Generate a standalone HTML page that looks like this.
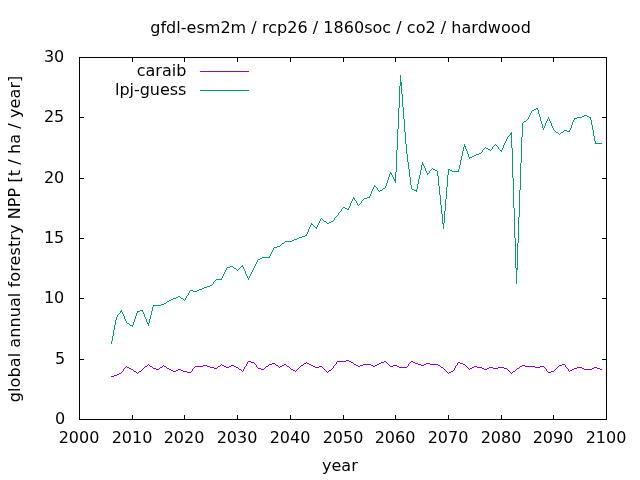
<!DOCTYPE html>
<html lang="en"><head><meta charset="utf-8"><title>gfdl-esm2m / rcp26 / 1860soc / co2 / hardwood</title>
<style>html,body{margin:0;padding:0;background:#fff;overflow:hidden}svg{display:block}text{font-family:"DejaVu Sans","Liberation Sans",sans-serif;font-size:16px;fill:#000}</style></head><body>
<svg width="640" height="480" viewBox="0 0 640 480">
<rect width="640" height="480" fill="#fff"/>
<g stroke="#000" stroke-width="1" fill="none" shape-rendering="crispEdges">
<path d="M79,419.5H84M607,419.5H602"/>
<path d="M79,359.5H84M607,359.5H602"/>
<path d="M79,298.5H84M607,298.5H602"/>
<path d="M79,238.5H84M607,238.5H602"/>
<path d="M79,178.5H84M607,178.5H602"/>
<path d="M79,117.5H84M607,117.5H602"/>
<path d="M79,57.5H84M607,57.5H602"/>
<path d="M79.5,420V415M79.5,57V62"/>
<path d="M132.5,420V415M132.5,57V62"/>
<path d="M184.5,420V415M184.5,57V62"/>
<path d="M237.5,420V415M237.5,57V62"/>
<path d="M290.5,420V415M290.5,57V62"/>
<path d="M343.5,420V415M343.5,57V62"/>
<path d="M395.5,420V415M395.5,57V62"/>
<path d="M448.5,420V415M448.5,57V62"/>
<path d="M501.5,420V415M501.5,57V62"/>
<path d="M553.5,420V415M553.5,57V62"/>
<path d="M606.5,420V415M606.5,57V62"/>
<rect x="79.5" y="57.5" width="527" height="362"/>
</g>
<text x="65.3" y="424.3" text-anchor="end">0</text>
<text x="65.3" y="364.3" text-anchor="end">5</text>
<text x="64.3" y="303.3" text-anchor="end">10</text>
<text x="64.3" y="243.3" text-anchor="end">15</text>
<text x="64.3" y="183.3" text-anchor="end">20</text>
<text x="64.3" y="122.3" text-anchor="end">25</text>
<text x="64.3" y="62.3" text-anchor="end">30</text>
<text x="79.0" y="443" text-anchor="middle">2000</text>
<text x="132.0" y="443" text-anchor="middle">2010</text>
<text x="184.0" y="443" text-anchor="middle">2020</text>
<text x="237.0" y="443" text-anchor="middle">2030</text>
<text x="290.0" y="443" text-anchor="middle">2040</text>
<text x="343.0" y="443" text-anchor="middle">2050</text>
<text x="395.0" y="443" text-anchor="middle">2060</text>
<text x="448.0" y="443" text-anchor="middle">2070</text>
<text x="501.0" y="443" text-anchor="middle">2080</text>
<text x="553.0" y="443" text-anchor="middle">2090</text>
<text x="606.0" y="443" text-anchor="middle">2100</text>
<text x="150.2" y="33.4" textLength="380.6">gfdl-esm2m / rcp26 / 1860soc / co2 / hardwood</text>
<text x="339.9" y="471" text-anchor="middle">year</text>
<text transform="translate(19.9,402.2) rotate(-90)" textLength="326.5">global annual forestry NPP [t / ha / year]</text>
<text x="186.3" y="76.3" text-anchor="end">caraib</text>
<text x="186.3" y="95.3" text-anchor="end" textLength="71.2">lpj-guess</text>
<g fill="none" stroke-width="1" shape-rendering="crispEdges" stroke-linejoin="round">
<path stroke="#9400d3" d="M200,71.5H249"/>
<path stroke="#009e73" d="M200,90.5H249"/>
<path stroke="none" fill="#9400d3" d="M111,376h3v1h-3zM114,375h3v1h-3zM117,374h2v1h-2zM119,373h2v1h-2zM121,372h1v1h-1zM122,371h1v1h-1zM123,369h1v2h-1zM124,368h1v1h-1zM125,367h1v1h-1zM126,366h1v1h-1zM127,367h2v1h-2zM129,368h2v1h-2zM131,369h2v1h-2zM133,370h1v1h-1zM134,371h2v1h-2zM136,372h1v1h-1zM137,373h1v1h-1zM138,372h1v1h-1zM139,371h2v1h-2zM141,370h1v1h-1zM142,369h1v1h-1zM143,368h1v1h-1zM144,367h1v1h-1zM145,366h2v1h-2zM147,365h1v1h-1zM148,364h1v1h-1zM149,365h1v1h-1zM150,366h2v1h-2zM152,367h1v1h-1zM153,368h3v1h-3zM156,369h3v1h-3zM159,368h1v1h-1zM160,367h2v1h-2zM162,366h1v1h-1zM163,365h1v1h-1zM164,366h2v1h-2zM166,367h1v1h-1zM167,368h2v1h-2zM169,369h2v1h-2zM171,370h2v1h-2zM173,371h3v1h-3zM176,370h2v1h-2zM178,369h3v1h-3zM181,370h2v1h-2zM183,371h4v1h-4zM187,372h4v1h-4zM191,371h1v1h-1zM192,369h1v2h-1zM193,368h1v1h-1zM194,367h1v1h-1zM195,366h8v1h-8zM203,365h4v1h-4zM207,366h3v1h-3zM210,367h4v1h-4zM214,368h3v1h-3zM217,367h1v1h-1zM218,366h2v1h-2zM220,365h1v1h-1zM221,364h1v1h-1zM222,365h2v1h-2zM224,366h2v1h-2zM226,367h3v1h-3zM229,366h2v1h-2zM231,365h3v1h-3zM234,366h2v1h-2zM236,367h2v1h-2zM238,368h1v1h-1zM239,369h2v1h-2zM241,370h1v1h-1zM242,371h1v1h-1zM243,369h1v2h-1zM244,367h1v2h-1zM245,366h1v1h-1zM246,364h1v2h-1zM247,362h1v2h-1zM248,361h3v1h-3zM251,362h3v1h-3zM254,363h1v1h-1zM255,364h1v1h-1zM256,365h1v2h-1zM257,367h1v1h-1zM258,368h3v1h-3zM261,369h3v1h-3zM264,368h1v1h-1zM265,367h1v1h-1zM266,366h2v1h-2zM268,365h1v1h-1zM269,364h3v1h-3zM272,363h3v1h-3zM275,364h1v1h-1zM276,365h2v1h-2zM278,366h1v1h-1zM279,367h1v1h-1zM280,366h2v1h-2zM282,365h2v1h-2zM284,364h2v1h-2zM286,365h1v1h-1zM287,366h2v1h-2zM289,367h1v1h-1zM290,368h1v1h-1zM291,369h2v1h-2zM293,370h2v1h-2zM295,371h1v1h-1zM296,370h1v1h-1zM297,369h1v1h-1zM298,368h1v1h-1zM299,367h1v1h-1zM300,366h1v1h-1zM301,365h2v1h-2zM303,364h1v1h-1zM304,363h2v1h-2zM306,362h1v1h-1zM307,363h2v1h-2zM309,364h2v1h-2zM311,365h2v1h-2zM313,366h2v1h-2zM315,367h4v1h-4zM319,366h3v1h-3zM322,367h1v1h-1zM323,368h1v1h-1zM324,369h1v1h-1zM325,370h1v1h-1zM326,371h1v1h-1zM327,372h1v1h-1zM328,371h1v1h-1zM329,370h2v1h-2zM331,369h1v1h-1zM332,368h1v1h-1zM333,366h1v2h-1zM334,365h1v1h-1zM335,364h1v1h-1zM336,362h1v2h-1zM337,361h9v1h-9zM346,360h3v1h-3zM349,361h2v1h-2zM351,362h2v1h-2zM353,363h1v1h-1zM354,364h2v1h-2zM356,365h2v1h-2zM358,366h2v1h-2zM360,365h3v1h-3zM363,364h8v1h-8zM371,365h2v1h-2zM373,366h2v1h-2zM375,365h2v1h-2zM377,364h2v1h-2zM379,363h2v1h-2zM381,362h3v1h-3zM384,361h2v1h-2zM386,362h1v1h-1zM387,363h1v1h-1zM388,364h1v1h-1zM389,365h1v1h-1zM390,366h3v1h-3zM393,365h4v1h-4zM397,366h2v1h-2zM399,367h8v1h-8zM407,366h1v1h-1zM408,364h1v2h-1zM409,363h1v1h-1zM410,362h1v1h-1zM411,361h2v1h-2zM413,362h2v1h-2zM415,363h3v1h-3zM418,364h3v1h-3zM421,365h3v1h-3zM424,364h2v1h-2zM426,363h4v1h-4zM430,364h8v1h-8zM438,365h2v1h-2zM440,366h1v1h-1zM441,367h2v1h-2zM443,368h1v1h-1zM444,369h1v1h-1zM445,370h1v1h-1zM446,371h1v1h-1zM447,372h1v1h-1zM448,373h1v1h-1zM449,372h2v1h-2zM451,371h2v1h-2zM453,370h1v1h-1zM454,368h1v2h-1zM455,366h1v2h-1zM456,365h1v1h-1zM457,363h1v2h-1zM458,362h2v1h-2zM460,363h3v1h-3zM463,364h2v1h-2zM465,365h1v1h-1zM466,366h1v1h-1zM467,367h1v1h-1zM468,368h1v1h-1zM469,369h1v1h-1zM470,368h2v1h-2zM472,367h2v1h-2zM474,366h3v1h-3zM477,367h5v1h-5zM482,368h2v1h-2zM484,369h3v1h-3zM487,368h2v1h-2zM489,367h4v1h-4zM493,368h5v1h-5zM498,367h6v1h-6zM504,368h3v1h-3zM507,369h1v1h-1zM508,370h1v1h-1zM509,371h1v1h-1zM510,372h1v1h-1zM511,373h1v1h-1zM512,372h1v1h-1zM513,371h2v1h-2zM515,370h1v1h-1zM516,369h1v1h-1zM517,368h2v1h-2zM519,367h1v1h-1zM520,366h2v1h-2zM522,365h3v1h-3zM525,366h10v1h-10zM535,367h5v1h-5zM540,366h4v1h-4zM544,367h1v1h-1zM545,368h1v1h-1zM546,369h1v2h-1zM547,371h1v1h-1zM548,372h3v1h-3zM551,371h3v1h-3zM554,370h1v1h-1zM555,369h1v1h-1zM556,368h1v1h-1zM557,367h1v1h-1zM558,366h1v1h-1zM559,365h3v1h-3zM562,364h3v1h-3zM565,365h1v2h-1zM566,367h1v1h-1zM567,368h1v1h-1zM568,369h1v2h-1zM569,371h1v1h-1zM570,370h2v1h-2zM572,369h2v1h-2zM574,368h3v1h-3zM577,367h5v1h-5zM582,368h2v1h-2zM584,369h8v1h-8zM592,368h2v1h-2zM594,367h3v1h-3zM597,368h3v1h-3zM600,369h2v1h-2z"/>
<path stroke="none" fill="#009e73" d="M111,341h1v3h-1zM112,336h1v5h-1zM113,330h1v6h-1zM114,325h1v5h-1zM115,320h1v5h-1zM116,317h1v3h-1zM117,315h1v2h-1zM118,314h1v1h-1zM119,313h1v1h-1zM120,311h1v2h-1zM121,310h1v2h-1zM122,312h1v2h-1zM123,314h1v2h-1zM124,316h1v3h-1zM125,319h1v2h-1zM126,321h1v2h-1zM127,323h2v1h-2zM129,324h1v1h-1zM130,325h2v1h-2zM132,325h1v2h-1zM133,322h1v3h-1zM134,319h1v3h-1zM135,316h1v3h-1zM136,313h1v3h-1zM137,311h1v2h-1zM138,311h2v1h-2zM140,310h2v1h-2zM142,310h1v2h-1zM143,312h1v2h-1zM144,314h1v3h-1zM145,317h1v2h-1zM146,319h1v3h-1zM147,322h1v2h-1zM148,323h1v3h-1zM149,319h1v4h-1zM150,315h1v4h-1zM151,311h1v4h-1zM152,307h1v4h-1zM153,305h1v2h-1zM154,305h7v1h-7zM161,304h3v1h-3zM164,303h2v1h-2zM166,302h1v1h-1zM167,301h2v1h-2zM169,300h2v1h-2zM171,299h2v1h-2zM173,298h3v1h-3zM176,297h2v1h-2zM178,296h2v1h-2zM180,297h1v1h-1zM181,298h2v1h-2zM183,299h1v1h-1zM184,300h1v1h-1zM185,298h1v2h-1zM186,296h1v2h-1zM187,295h1v1h-1zM188,293h1v2h-1zM189,291h1v2h-1zM190,290h3v1h-3zM193,291h4v1h-4zM197,290h2v1h-2zM199,289h3v1h-3zM202,288h2v1h-2zM204,287h3v1h-3zM207,286h3v1h-3zM210,285h2v1h-2zM212,284h1v1h-1zM213,282h1v2h-1zM214,281h1v1h-1zM215,280h1v1h-1zM216,279h5v1h-5zM221,278h1v2h-1zM222,276h1v2h-1zM223,274h1v2h-1zM224,272h1v2h-1zM225,270h1v2h-1zM226,268h1v2h-1zM227,267h3v1h-3zM230,266h3v1h-3zM233,267h1v1h-1zM234,268h2v1h-2zM236,269h1v1h-1zM237,270h1v1h-1zM238,269h1v1h-1zM239,268h1v1h-1zM240,267h1v1h-1zM241,266h1v1h-1zM242,265h1v2h-1zM243,267h1v2h-1zM244,269h1v2h-1zM245,271h1v3h-1zM246,274h1v2h-1zM247,276h1v2h-1zM248,278h1v2h-1zM249,276h1v2h-1zM250,274h1v2h-1zM251,272h1v2h-1zM252,270h1v2h-1zM253,268h1v2h-1zM254,266h1v2h-1zM255,264h1v2h-1zM256,262h1v2h-1zM257,260h1v2h-1zM258,259h2v1h-2zM260,258h2v1h-2zM262,257h7v1h-7zM269,256h1v2h-1zM270,254h1v2h-1zM271,252h1v2h-1zM272,250h1v2h-1zM273,248h1v2h-1zM274,247h3v1h-3zM277,246h3v1h-3zM280,245h1v1h-1zM281,244h1v1h-1zM282,243h2v1h-2zM284,242h1v1h-1zM285,241h7v1h-7zM292,240h2v1h-2zM294,239h3v1h-3zM297,238h2v1h-2zM299,237h3v1h-3zM302,236h3v1h-3zM305,235h1v1h-1zM306,234h1v2h-1zM307,232h1v2h-1zM308,229h1v3h-1zM309,227h1v2h-1zM310,225h1v2h-1zM311,223h1v2h-1zM312,224h1v1h-1zM313,225h1v1h-1zM314,226h1v1h-1zM315,227h1v1h-1zM316,227h1v2h-1zM317,225h1v2h-1zM318,223h1v2h-1zM319,221h1v2h-1zM320,219h1v2h-1zM321,218h1v1h-1zM322,219h1v1h-1zM323,220h1v1h-1zM324,221h2v1h-2zM326,222h1v1h-1zM327,223h2v1h-2zM329,222h2v1h-2zM331,221h2v1h-2zM333,220h1v1h-1zM334,218h1v2h-1zM335,217h1v1h-1zM336,216h1v1h-1zM337,215h1v1h-1zM338,213h1v2h-1zM339,212h1v1h-1zM340,211h1v1h-1zM341,209h1v2h-1zM342,208h1v1h-1zM343,207h2v1h-2zM345,208h2v1h-2zM347,209h1v1h-1zM348,208h1v2h-1zM349,206h1v2h-1zM350,203h1v3h-1zM351,201h1v2h-1zM352,199h1v2h-1zM353,197h1v2h-1zM354,198h1v2h-1zM355,200h1v1h-1zM356,201h1v2h-1zM357,203h1v2h-1zM358,205h1v1h-1zM359,204h1v1h-1zM360,203h1v1h-1zM361,201h1v2h-1zM362,200h1v1h-1zM363,199h1v1h-1zM364,198h3v1h-3zM367,197h2v1h-2zM369,196h1v2h-1zM370,194h1v2h-1zM371,191h1v3h-1zM372,189h1v2h-1zM373,187h1v2h-1zM374,185h1v2h-1zM375,186h1v1h-1zM376,187h1v1h-1zM377,188h1v2h-1zM378,190h1v1h-1zM379,191h1v1h-1zM380,190h2v1h-2zM382,189h1v1h-1zM383,188h2v1h-2zM385,186h1v2h-1zM386,183h1v3h-1zM387,180h1v3h-1zM388,177h1v3h-1zM389,174h1v3h-1zM390,172h1v2h-1zM391,173h1v2h-1zM392,175h1v2h-1zM393,177h1v2h-1zM394,179h1v2h-1zM395,172h1v11h-1zM396,150h1v22h-1zM397,129h1v21h-1zM398,108h1v21h-1zM399,86h1v22h-1zM400,75h1v11h-1zM401,82h1v12h-1zM402,94h1v13h-1zM403,107h1v12h-1zM404,119h1v13h-1zM405,132h1v12h-1zM406,144h1v10h-1zM407,154h1v8h-1zM408,162h1v7h-1zM409,169h1v8h-1zM410,177h1v8h-1zM411,185h1v4h-1zM412,189h2v1h-2zM414,190h2v1h-2zM416,189h1v3h-1zM417,184h1v5h-1zM418,179h1v5h-1zM419,175h1v4h-1zM420,170h1v5h-1zM421,165h1v5h-1zM422,162h1v3h-1zM423,164h1v2h-1zM424,166h1v2h-1zM425,168h1v3h-1zM426,171h1v2h-1zM427,173h1v2h-1zM428,173h1v1h-1zM429,171h1v2h-1zM430,170h1v1h-1zM431,169h1v1h-1zM432,168h1v1h-1zM433,169h2v1h-2zM435,170h2v1h-2zM437,171h1v5h-1zM438,176h1v10h-1zM439,186h1v9h-1zM440,195h1v10h-1zM441,205h1v9h-1zM442,214h1v10h-1zM443,223h1v6h-1zM444,211h1v12h-1zM445,199h1v12h-1zM446,187h1v12h-1zM447,175h1v12h-1zM448,169h1v6h-1zM449,169h1v1h-1zM450,170h2v1h-2zM452,171h6v1h-6zM458,169h1v3h-1zM459,165h1v4h-1zM460,160h1v5h-1zM461,156h1v4h-1zM462,151h1v5h-1zM463,147h1v4h-1zM464,144h1v3h-1zM465,146h1v3h-1zM466,149h1v2h-1zM467,151h1v3h-1zM468,154h1v3h-1zM469,157h1v2h-1zM470,157h2v1h-2zM472,156h2v1h-2zM474,155h2v1h-2zM476,154h3v1h-3zM479,153h2v1h-2zM481,152h1v1h-1zM482,150h1v2h-1zM483,149h1v1h-1zM484,148h1v1h-1zM485,147h1v1h-1zM486,148h2v1h-2zM488,149h2v1h-2zM490,150h1v1h-1zM491,149h1v1h-1zM492,147h1v2h-1zM493,146h1v1h-1zM494,145h1v1h-1zM495,144h1v1h-1zM496,145h1v1h-1zM497,146h1v1h-1zM498,147h1v2h-1zM499,149h1v1h-1zM500,150h1v1h-1zM501,150h1v2h-1zM502,148h1v2h-1zM503,145h1v3h-1zM504,143h1v2h-1zM505,141h1v2h-1zM506,139h1v2h-1zM507,137h1v2h-1zM508,136h1v1h-1zM509,135h1v1h-1zM510,133h1v2h-1zM511,132h1v16h-1zM512,148h1v30h-1zM513,178h1v30h-1zM514,208h1v30h-1zM515,238h1v30h-1zM516,268h1v16h-1zM517,243h1v27h-1zM518,217h1v26h-1zM519,190h1v27h-1zM520,163h1v27h-1zM521,137h1v26h-1zM522,123h1v14h-1zM523,122h1v1h-1zM524,121h2v1h-2zM526,120h1v1h-1zM527,119h1v1h-1zM528,117h1v2h-1zM529,115h1v2h-1zM530,113h1v2h-1zM531,111h1v2h-1zM532,110h2v1h-2zM534,109h2v1h-2zM536,108h1v1h-1zM537,108h1v2h-1zM538,110h1v4h-1zM539,114h1v3h-1zM540,117h1v4h-1zM541,121h1v3h-1zM542,124h1v4h-1zM543,128h1v2h-1zM544,126h1v2h-1zM545,123h1v3h-1zM546,121h1v2h-1zM547,119h1v2h-1zM548,117h1v2h-1zM549,119h1v2h-1zM550,121h1v2h-1zM551,123h1v3h-1zM552,126h1v2h-1zM553,128h1v2h-1zM554,130h1v1h-1zM555,131h1v1h-1zM556,132h2v1h-2zM558,133h1v1h-1zM559,134h1v1h-1zM560,133h1v1h-1zM561,132h2v1h-2zM563,131h1v1h-1zM564,130h3v1h-3zM567,131h2v1h-2zM569,130h1v2h-1zM570,128h1v2h-1zM571,125h1v3h-1zM572,122h1v3h-1zM573,120h1v2h-1zM574,118h1v2h-1zM575,118h2v1h-2zM577,117h5v1h-5zM582,116h2v1h-2zM584,115h3v1h-3zM587,116h2v1h-2zM589,117h1v1h-1zM590,117h1v3h-1zM591,120h1v5h-1zM592,125h1v5h-1zM593,130h1v6h-1zM594,136h1v5h-1zM595,141h1v3h-1zM596,143h6v1h-6z"/>
</g>
</svg></body></html>
